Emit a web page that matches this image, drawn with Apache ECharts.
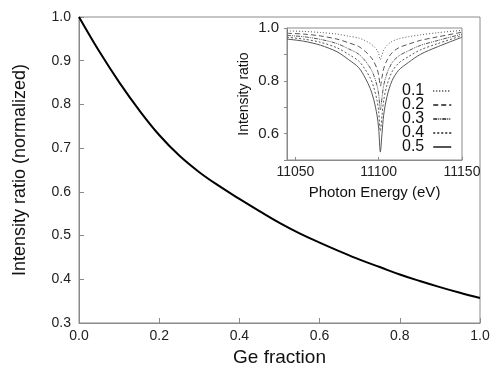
<!DOCTYPE html>
<html>
<head>
<meta charset="utf-8">
<script src="https://cdn.jsdelivr.net/npm/echarts@6/dist/echarts.min.js"></script>
<style>
  html, body { margin: 0; padding: 0; background: #fff; }
  #chart { width: 497px; height: 372px; }
</style>
</head>
<body>
<div id="chart"></div>
<script>
// main curve: Ge fraction vs normalized intensity ratio
const geFraction = [0, 0.05, 0.1, 0.15, 0.2, 0.25, 0.3, 0.35, 0.4, 0.45, 0.5,
  0.55, 0.6, 0.65, 0.7, 0.75, 0.8, 0.85, 0.9, 0.95, 1.0];
const intensityRatio = [1.0, 0.922, 0.851, 0.787, 0.73, 0.683, 0.645, 0.613, 0.584, 0.556, 0.529,
  0.505, 0.484, 0.464, 0.445, 0.428, 0.411, 0.396, 0.382, 0.369, 0.357];

// inset: photon energy scan for each Ge fraction
const photonEnergy = [11045, 11055, 11065, 11075, 11082, 11088, 11092, 11095, 11097, 11099, 11100,
  11101, 11102, 11103, 11105, 11108, 11112, 11118, 11125, 11135, 11150];
const insetNames = ["0.1", "0.2", "0.3", "0.4", "0.5"];
const ratio01 = [0.989, 0.987, 0.983, 0.977, 0.969, 0.962, 0.952, 0.941, 0.931, 0.916, 0.903,
  0.88, 0.898, 0.916, 0.934, 0.949, 0.959, 0.967, 0.974, 0.982, 0.991];
const ratio02 = [0.98, 0.977, 0.97, 0.958, 0.944, 0.93, 0.911, 0.892, 0.874, 0.846, 0.822,
  0.78, 0.813, 0.846, 0.878, 0.906, 0.925, 0.939, 0.953, 0.966, 0.984];
const ratio03 = [0.972, 0.967, 0.957, 0.941, 0.921, 0.901, 0.875, 0.848, 0.822, 0.782, 0.749,
  0.69, 0.736, 0.782, 0.828, 0.868, 0.894, 0.914, 0.934, 0.952, 0.977];
const ratio04 = [0.965, 0.958, 0.946, 0.925, 0.9, 0.875, 0.842, 0.81, 0.776, 0.726, 0.685,
  0.61, 0.668, 0.726, 0.784, 0.834, 0.867, 0.892, 0.917, 0.94, 0.971];
const ratio05 = [0.958, 0.95, 0.935, 0.91, 0.88, 0.85, 0.81, 0.77, 0.73, 0.67, 0.62,
  0.53, 0.6, 0.67, 0.74, 0.8, 0.84, 0.87, 0.9, 0.928, 0.965];
const insetRatios = [ratio01, ratio02, ratio03, ratio04, ratio05];
const insetDashes = [[1, 2], [5, 3], [4, 1, 1, 1, 1, 1], [2, 2], "solid"];

const FONT = "Liberation Sans";
const AXIS_GRAY = "#8a8a8a";

const chart = echarts.init(document.getElementById("chart"));

const insetSeries = insetNames.map((name, i) => ({
  name: name,
  type: "line",
  xAxisIndex: 1,
  yAxisIndex: 1,
  smooth: 0.3,
  symbol: "none",
  data: photonEnergy.map((e, j) => [e, insetRatios[i][j]]),
  lineStyle: { color: "#555", width: 1, type: insetDashes[i] },
  itemStyle: { color: "#555" },
}));

const option = {
  animation: false,
  textStyle: { fontFamily: FONT },
  grid: [
    {
      left: 79, right: 17, top: 17, bottom: 49,
      show: true, borderColor: AXIS_GRAY, borderWidth: 1,
    },
    {
      left: 287, width: 175, top: 28, height: 132,
      show: true, borderColor: AXIS_GRAY, borderWidth: 1,
    },
  ],
  xAxis: [
    {
      type: "value",
      gridIndex: 0,
      min: 0, max: 1, interval: 0.2,
      name: "Ge fraction",
      nameLocation: "middle",
      nameGap: 24,
      nameTextStyle: { fontSize: 19, color: "#111", fontFamily: FONT },
      axisLine: { lineStyle: { color: AXIS_GRAY } },
      axisTick: { inside: true, length: 5, lineStyle: { color: AXIS_GRAY } },
      axisLabel: {
        fontSize: 14, color: "#222", margin: 6,
        formatter: (v) => v.toFixed(1),
      },
      splitLine: { show: false },
    },
    {
      type: "value",
      gridIndex: 1,
      min: 11045, max: 11150,
      name: "Photon Energy (eV)",
      nameLocation: "middle",
      nameGap: 25,
      nameTextStyle: { fontSize: 15, color: "#111", fontFamily: FONT },
      axisLine: { lineStyle: { color: AXIS_GRAY } },
      axisTick: { inside: true, length: 3, customValues: [11050, 11100, 11150], lineStyle: { color: AXIS_GRAY } },
      axisLabel: {
        fontSize: 14, color: "#222", margin: 5,
        customValues: [11050, 11100, 11150],
        formatter: (v) => String(v),
      },
      splitLine: { show: false },
    },
  ],
  yAxis: [
    {
      type: "value",
      gridIndex: 0,
      min: 0.3, max: 1.0, interval: 0.1,
      name: "Intensity ratio (normalized)",
      nameLocation: "middle",
      nameGap: 50,
      nameTextStyle: { fontSize: 18, color: "#111", fontFamily: FONT },
      axisLine: { lineStyle: { color: AXIS_GRAY } },
      axisTick: { inside: true, length: 5, lineStyle: { color: AXIS_GRAY } },
      axisLabel: {
        fontSize: 14, color: "#222", margin: 8,
        formatter: (v) => v.toFixed(1),
      },
      splitLine: { show: false },
    },
    {
      type: "value",
      gridIndex: 1,
      min: 0.5, max: 1.0, interval: 0.1,
      name: "Intensity ratio",
      nameLocation: "middle",
      nameGap: 36,
      nameTextStyle: { fontSize: 14, color: "#111", fontFamily: FONT },
      axisLine: { lineStyle: { color: AXIS_GRAY } },
      axisTick: { inside: false, length: 3, lineStyle: { color: AXIS_GRAY } },
      axisLabel: {
        fontSize: 15, color: "#222", margin: 8,
        formatter: (v) => (Math.round(v * 10) % 2 === 0 ? v.toFixed(1) : ""),
      },
      splitLine: { show: false },
    },
  ],
  legend: {
    data: insetNames,
    orient: "vertical",
    left: 402,
    top: 83,
    align: "right",
    itemWidth: 18,
    itemHeight: 14,
    itemGap: -2,
    padding: 0,
    itemStyle: { opacity: 0 },
    textStyle: { fontSize: 16, lineHeight: 14, color: "#111", fontFamily: FONT, padding: [0, 4, 0, 0] },
  },
  series: [
    {
      name: "main",
      type: "line",
      xAxisIndex: 0,
      yAxisIndex: 0,
      smooth: 0.4,
      symbol: "none",
      data: geFraction.map((g, i) => [g, intensityRatio[i]]),
      lineStyle: { color: "#000", width: 2 },
    },
    ...insetSeries,
  ],
};

chart.setOption(option);
</script>
</body>
</html>
